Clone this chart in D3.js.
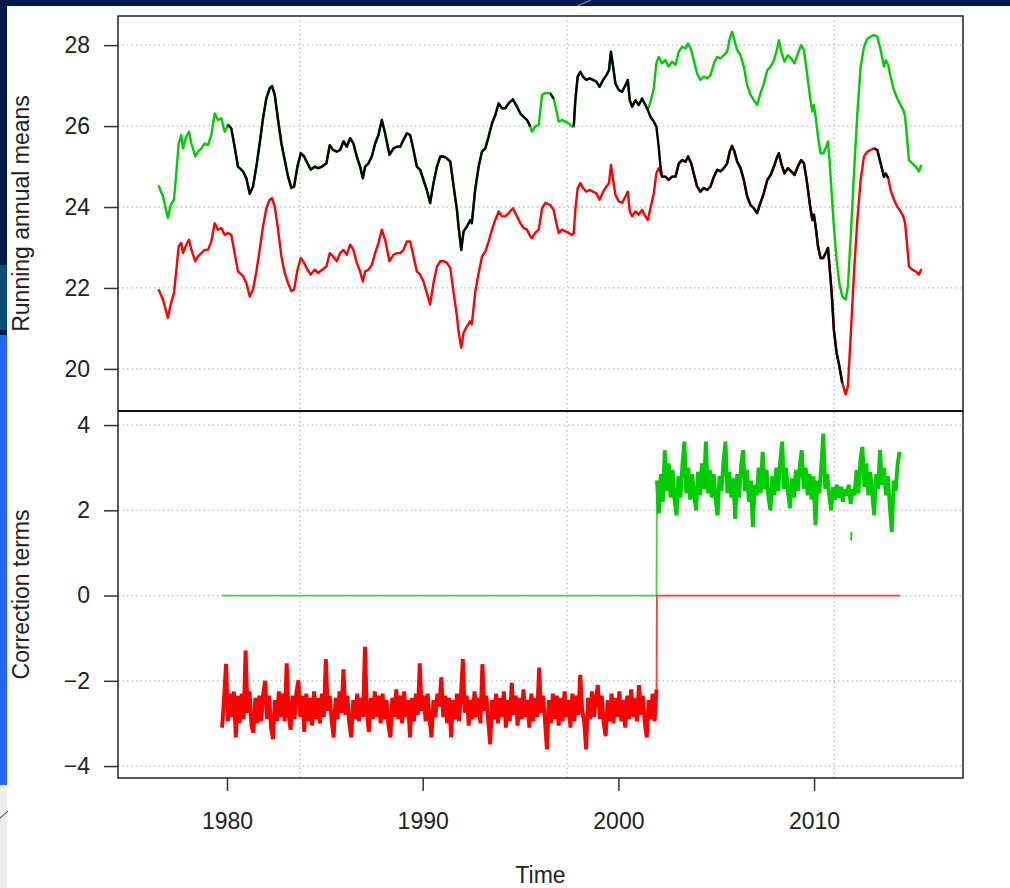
<!DOCTYPE html>
<html>
<head>
<meta charset="utf-8">
<script src="https://cdn.jsdelivr.net/npm/d3@7"></script>
<style>
body { margin: 0; background: #fff; }
svg { display: block; font-family: "Liberation Sans", Arial, sans-serif; }
</style>
</head>
<body>
<div id="chart"></div>
<script>
// running annual means (decimal years)
var meanYears = [
  1976.50, 1976.73, 1976.98, 1977.12, 1977.29, 1977.36, 1977.53, 1977.66, 1977.75, 1977.92,
  1978.06, 1978.18, 1978.38, 1978.52, 1978.69, 1978.86, 1979.03, 1979.20, 1979.37, 1979.54,
  1979.71, 1979.88, 1980.05, 1980.22, 1980.39, 1980.56, 1980.82, 1980.99, 1981.16, 1981.33,
  1981.50, 1981.67, 1981.84, 1982.01, 1982.18, 1982.30, 1982.44, 1982.61, 1982.78, 1982.95,
  1983.12, 1983.29, 1983.43, 1983.60, 1983.77, 1983.94, 1984.11, 1984.28, 1984.48, 1984.66,
  1984.86, 1985.08, 1985.25, 1985.42, 1985.61, 1985.78, 1985.95, 1986.12, 1986.29, 1986.46,
  1986.63, 1986.80, 1986.94, 1987.06, 1987.23, 1987.40, 1987.57, 1987.74, 1987.91, 1988.08,
  1988.30, 1988.51, 1988.68, 1988.85, 1989.02, 1989.19, 1989.36, 1989.53, 1989.70, 1989.87,
  1990.04, 1990.21, 1990.38, 1990.55, 1990.73, 1990.90, 1991.07, 1991.24, 1991.41, 1991.58,
  1991.75, 1991.83, 1991.97, 1992.09, 1992.26, 1992.43, 1992.51, 1992.68, 1992.86, 1993.03,
  1993.20, 1993.37, 1993.54, 1993.71, 1993.88, 1994.05, 1994.22, 1994.39, 1994.61, 1994.82,
  1994.99, 1995.16, 1995.33, 1995.50, 1995.58, 1995.75, 1995.93, 1996.10, 1996.27, 1996.52,
  1996.69, 1996.83, 1996.95, 1997.12, 1997.29, 1997.46, 1997.63, 1997.72, 1997.80, 1997.92,
  1998.06, 1998.19, 1998.36, 1998.53, 1998.70, 1998.87, 1999.04, 1999.22, 1999.39, 1999.52,
  1999.62, 1999.73, 1999.85, 2000.02, 2000.19, 2000.36, 2000.48, 2000.58, 2000.70, 2000.87,
  2001.04, 2001.21, 2001.38, 2001.50, 2001.64, 2001.81, 2001.94, 2002.06, 2002.23, 2002.40,
  2002.57, 2002.74, 2002.92, 2003.09, 2003.26, 2003.43, 2003.56, 2003.72, 2003.85, 2004.02,
  2004.19, 2004.36, 2004.54, 2004.71, 2004.88, 2005.05, 2005.22, 2005.39, 2005.56, 2005.69,
  2005.81, 2005.93, 2006.07, 2006.24, 2006.41, 2006.58, 2006.75, 2006.92, 2007.09, 2007.26,
  2007.43, 2007.61, 2007.78, 2007.95, 2008.12, 2008.20, 2008.32, 2008.49, 2008.66, 2008.83,
  2009.00, 2009.17, 2009.34, 2009.48, 2009.62, 2009.79, 2009.91, 2009.99, 2010.08, 2010.20,
  2010.33, 2010.47, 2010.59, 2010.71, 2010.79, 2010.90, 2011.01, 2011.15, 2011.29, 2011.44,
  2011.61, 2011.73, 2011.87, 2012.04, 2012.21, 2012.38, 2012.55, 2012.72, 2012.89, 2013.06,
  2013.23, 2013.40, 2013.57, 2013.66, 2013.79, 2013.91, 2014.08, 2014.25, 2014.42, 2014.56,
  2014.65, 2014.73, 2014.85, 2015.02, 2015.19, 2015.36, 2015.48
];
var greenMeans = [
  24.53, 24.26, 23.73, 24.05, 24.18, 24.55, 25.57, 25.78, 25.45, 25.74,
  25.86, 25.57, 25.25, 25.37, 25.45, 25.57, 25.53, 25.78, 26.31, 26.15,
  26.19, 25.86, 26.03, 25.94, 25.49, 25.00, 24.88, 24.71, 24.33, 24.51,
  25.00, 25.57, 26.19, 26.68, 26.93, 26.99, 26.77, 26.15, 25.57, 25.16,
  24.75, 24.47, 24.51, 25.00, 25.33, 25.25, 25.08, 24.92, 25.00, 24.96,
  25.00, 25.08, 25.53, 25.41, 25.37, 25.41, 25.62, 25.49, 25.70, 25.57,
  25.25, 25.00, 24.71, 25.00, 25.08, 25.25, 25.57, 25.78, 26.15, 25.82,
  25.29, 25.45, 25.49, 25.49, 25.66, 25.82, 25.78, 25.41, 25.00, 24.92,
  24.67, 24.42, 24.10, 24.59, 25.00, 25.25, 25.25, 25.20, 25.12, 24.51,
  23.93, 23.52, 22.94, 23.40, 23.52, 23.68, 23.60, 24.42, 25.00, 25.37,
  25.45, 25.74, 26.07, 26.27, 26.56, 26.44, 26.44, 26.56, 26.66, 26.48,
  26.31, 26.23, 26.15, 25.99, 25.86, 25.99, 26.03, 26.77, 26.82, 26.81,
  26.68, 26.40, 26.11, 26.15, 26.11, 26.07, 25.99, 25.99, 26.64, 27.22,
  27.34, 27.22, 27.14, 27.18, 27.14, 27.10, 26.97, 27.14, 27.26, 27.38,
  27.84, 27.47, 27.05, 26.89, 26.85, 27.01, 27.14, 26.64, 26.48, 26.64,
  26.52, 26.68, 26.52, 26.40, 26.60, 26.93, 27.55, 27.71, 27.55, 27.63,
  27.47, 27.59, 27.51, 27.84, 27.96, 27.92, 28.04, 27.88, 27.63, 27.30,
  27.14, 27.22, 27.18, 27.26, 27.55, 27.71, 27.67, 27.75, 27.84, 28.16,
  28.33, 28.12, 27.88, 27.75, 27.47, 27.01, 26.77, 26.64, 26.52, 26.81,
  27.05, 27.38, 27.47, 27.63, 27.92, 28.12, 27.84, 27.59, 27.75, 27.67,
  27.55, 27.79, 28.00, 27.88, 27.38, 26.73, 26.36, 26.52, 26.23, 25.74,
  25.33, 25.33, 25.45, 25.62, 25.16, 24.34, 23.52, 22.70, 22.12, 21.79,
  21.71, 22.04, 23.27, 24.83, 26.31, 27.47, 27.96, 28.16, 28.21, 28.25,
  28.21, 27.88, 27.47, 27.63, 27.51, 27.22, 26.89, 26.68, 26.52, 26.40,
  26.23, 25.82, 25.16, 25.08, 25.00, 24.88, 25.04
];
var redMeans = [
  21.97, 21.71, 21.26, 21.59, 21.88, 22.20, 23.03, 23.11, 22.86, 23.07,
  23.19, 22.94, 22.66, 22.78, 22.86, 22.94, 22.94, 23.15, 23.60, 23.44,
  23.48, 23.31, 23.36, 23.31, 22.86, 22.41, 22.29, 22.12, 21.79, 21.96,
  22.41, 22.94, 23.52, 23.97, 24.18, 24.22, 24.01, 23.44, 22.78, 22.37,
  22.12, 21.92, 21.96, 22.45, 22.74, 22.62, 22.45, 22.33, 22.45, 22.37,
  22.45, 22.53, 22.86, 22.78, 22.66, 22.86, 22.94, 22.82, 23.07, 22.94,
  22.62, 22.41, 22.16, 22.41, 22.45, 22.57, 22.86, 23.11, 23.44, 23.19,
  22.66, 22.82, 22.86, 22.86, 22.94, 23.15, 23.15, 22.78, 22.41, 22.33,
  22.16, 21.88, 21.59, 22.12, 22.53, 22.66, 22.66, 22.62, 22.49, 21.88,
  21.30, 20.93, 20.52, 20.89, 21.05, 21.18, 21.10, 21.88, 22.37, 22.78,
  22.90, 23.15, 23.44, 23.68, 23.89, 23.77, 23.77, 23.85, 23.97, 23.77,
  23.60, 23.48, 23.44, 23.27, 23.23, 23.36, 23.44, 23.97, 24.10, 24.05,
  23.93, 23.60, 23.36, 23.44, 23.40, 23.36, 23.31, 23.36, 23.93, 24.46,
  24.59, 24.47, 24.38, 24.42, 24.38, 24.34, 24.18, 24.38, 24.51, 24.59,
  25.04, 24.67, 24.30, 24.14, 24.10, 24.26, 24.38, 23.89, 23.77, 23.89,
  23.81, 23.93, 23.77, 23.68, 23.97, 24.34, 24.83, 24.96, 24.75, 24.75,
  24.67, 24.75, 24.75, 25.08, 25.16, 25.12, 25.25, 25.08, 24.83, 24.51,
  24.38, 24.47, 24.42, 24.51, 24.75, 24.92, 24.88, 24.96, 25.08, 25.37,
  25.51, 25.37, 25.12, 24.96, 24.67, 24.26, 24.05, 23.97, 23.85, 24.10,
  24.34, 24.67, 24.79, 25.00, 25.25, 25.33, 25.08, 24.83, 24.96, 24.88,
  24.79, 25.00, 25.16, 25.08, 24.67, 24.05, 23.68, 23.81, 23.52, 23.03,
  22.74, 22.74, 22.86, 22.99, 22.53, 21.88, 20.97, 20.40, 20.07, 19.66,
  19.37, 19.57, 20.81, 22.37, 23.68, 24.67, 25.25, 25.37, 25.41, 25.45,
  25.41, 25.08, 24.75, 24.83, 24.71, 24.42, 24.18, 24.01, 23.89, 23.77,
  23.60, 23.19, 22.53, 22.45, 22.41, 22.33, 22.47
];

// black (corrected) series: pieces taken from the green / red means, plus its own
// short drop from the green level down to the red level around 2002
var blackPieces = [
  [["green", 1980.05, 1995.55]],
  [["green", 1996.50, 1996.70]],
  [["green", 1997.70, 2001.50], ["bridge"], ["red", 2002.20, 2011.45]],
  [["red", 2013.00, 2013.80]]
];
var blackBridge = [[2001.64, 26.23], [2001.81, 26.11], [2001.94, 25.99], [2002.06, 25.49], [2002.15, 25.00]];

// correction terms, one value every 0.1 year
var corrStep = 0.1;
var redCorrStart = 1979.75;
var redCorr = [
  -3.10, -2.40, -1.60, -2.95, -2.30, -2.85, -2.25, -3.33, -2.35, -3.00,
  -2.30, -2.90, -1.29, -2.75, -2.25, -3.05, -3.22, -2.40, -3.00, -2.35,
  -2.95, -2.30, -2.00, -2.90, -2.35, -3.10, -3.37, -2.45, -2.95, -2.25,
  -2.85, -2.30, -2.95, -1.59, -2.80, -3.15, -2.35, -2.90, -2.25, -1.99,
  -2.85, -2.35, -3.20, -2.30, -2.95, -2.40, -3.05, -2.25, -2.90, -2.40,
  -3.00, -2.30, -2.85, -1.49, -2.70, -2.35, -2.95, -3.33, -2.40, -2.90,
  -2.25, -2.75, -1.73, -2.80, -2.35, -3.00, -3.33, -2.45, -2.90, -2.30,
  -2.95, -2.40, -2.85, -1.20, -2.75, -3.20, -2.40, -2.90, -2.25, -2.85,
  -2.35, -3.00, -2.30, -2.90, -2.45, -3.05, -3.33, -2.40, -2.85, -2.20,
  -2.90, -2.35, -3.00, -2.25, -2.85, -2.45, -3.33, -2.40, -2.95, -2.30,
  -2.80, -1.59, -2.70, -2.35, -2.95, -2.30, -2.90, -3.33, -2.45, -2.85,
  -2.30, -2.60, -1.92, -2.85, -2.35, -3.00, -2.40, -3.33, -2.45, -2.90,
  -2.30, -2.95, -2.40, -1.49, -2.75, -2.35, -3.05, -2.45, -2.90, -2.25,
  -2.85, -2.40, -3.00, -1.61, -2.70, -2.35, -2.95, -3.49, -2.45, -2.90,
  -2.30, -3.00, -2.40, -2.85, -2.25, -3.10, -2.45, -2.95, -2.05, -2.80,
  -2.35, -3.05, -2.40, -2.90, -2.20, -2.85, -2.45, -3.10, -2.30, -2.95,
  -2.40, -2.85, -1.69, -2.75, -2.35, -2.95, -3.61, -2.45, -3.00, -2.30,
  -2.90, -2.35, -3.05, -2.40, -2.95, -2.25, -2.85, -2.45, -3.10, -2.30,
  -2.95, -2.35, -2.80, -1.86, -2.70, -2.95, -3.61, -2.40, -2.90, -2.25,
  -2.85, -2.40, -2.10, -2.90, -2.35, -3.00, -3.30, -2.45, -2.95, -2.30,
  -3.00, -2.40, -2.85, -2.25, -2.95, -2.45, -3.10, -2.35, -2.90, -2.20,
  -2.85, -2.40, -2.95, -2.10, -2.80, -2.35, -3.00, -3.33, -2.45, -2.90,
  -2.30, -2.95, -2.20
];
var redCorrAfter = [[2001.97, 0], [2014.40, 0]];

var greenCorrBefore = [[1979.75, 0], [2001.95, 0]];
var greenCorrStart = 2001.97;
var greenCorr = [
  2.70, 1.93, 2.85, 2.20, 3.41, 2.45, 3.10, 2.30, 2.95, 2.25,
  1.88, 2.80, 2.30, 3.05, 3.61, 2.40, 3.00, 2.25, 2.85, 2.35,
  2.00, 2.90, 2.35, 3.10, 2.50, 3.61, 2.40, 2.95, 2.30, 2.85,
  2.25, 1.88, 2.80, 2.45, 3.15, 3.61, 2.40, 2.90, 2.30, 2.75,
  1.80, 2.85, 2.30, 3.05, 3.41, 2.45, 2.95, 2.20, 2.70, 1.61,
  2.60, 2.35, 3.00, 2.40, 3.37, 2.50, 2.95, 2.30, 2.00, 2.80,
  2.35, 3.00, 2.45, 3.15, 3.61, 2.50, 3.00, 2.40, 2.05, 2.75,
  2.30, 2.95, 2.45, 3.05, 3.41, 2.50, 3.00, 2.35, 2.85, 2.25,
  2.80, 1.65, 2.70, 2.40, 3.05, 3.80, 2.50, 2.85, 2.35, 2.00,
  2.55, 2.25, 2.60, 2.30, 2.55, 2.20, 2.50, 2.35, 2.60, 2.15,
  2.50, 2.35, 2.95, 2.40, 3.20, 3.49, 2.55, 3.10, 2.35, 2.90,
  2.40, 1.88, 2.85, 2.50, 3.41, 2.60, 3.00, 2.35, 2.80, 2.10,
  1.49, 2.70, 2.45, 3.10, 3.37
];
var greenCorrStray = [[2011.90, 1.29], [2011.90, 1.49]];

var yTicksTop = [20, 22, 24, 26, 28];
var yTicksBottom = [-4, -2, 0, 2, 4];
var xTicks = [1980, 1990, 2000, 2010];
var xGridYears = [1983.73, 1997.38, 2011.03];

var W = 1010, H = 888;
var pLeft = 118, pRight = 963, pTop = 16, pMid = 411, pBottom = 778;
var fontStack = '"Liberation Sans", Arial, sans-serif';

var svg = d3.select("#chart").append("svg").attr("width", W).attr("height", H);

// bits of the slide behind the chart
svg.append("rect").attr("x", 0).attr("y", 0).attr("width", W).attr("height", H).attr("fill", "#fff");
svg.append("rect").attr("x", 0).attr("y", 0).attr("width", W).attr("height", 6).attr("fill", "#021a4b");
svg.append("rect").attr("x", 0).attr("y", 0).attr("width", 7).attr("height", H).attr("fill", "#021a4b");
svg.append("rect").attr("x", 0).attr("y", 265).attr("width", 7).attr("height", 65).attr("fill", "#0b4d72");
svg.append("rect").attr("x", 0).attr("y", 335).attr("width", 7).attr("height", 450).attr("fill", "#2464f4");
svg.append("rect").attr("x", 0).attr("y", 785).attr("width", 7).attr("height", 103).attr("fill", "#eeeeee");
svg.append("line").attr("x1", 0).attr("y1", 818).attr("x2", 8).attr("y2", 811).attr("stroke", "#1a2a55");
svg.append("line").attr("x1", 577).attr("y1", 6).attr("x2", 591).attr("y2", 0).attr("stroke", "#8ea0c8");

var x = d3.scaleLinear().domain([1974.43, 2017.61]).range([pLeft, pRight]);
var yTop = d3.scaleLinear().domain([18.96, 28.72]).range([pMid, pTop]);
var yBot = d3.scaleLinear().domain([-4.28, 4.33]).range([pBottom, pMid]);

svg.append("clipPath").attr("id", "clipTop").append("rect")
  .attr("x", pLeft).attr("y", pTop).attr("width", pRight - pLeft).attr("height", pMid - pTop);
svg.append("clipPath").attr("id", "clipBot").append("rect")
  .attr("x", pLeft).attr("y", pMid).attr("width", pRight - pLeft).attr("height", pBottom - pMid);

// dotted grid
var grid = svg.append("g").attr("stroke", "#bdbdbd").attr("stroke-width", 1.3).attr("stroke-dasharray", "1.5,3");
grid.selectAll(".hTop").data(yTicksTop).enter().append("line")
  .attr("x1", pLeft).attr("x2", pRight)
  .attr("y1", function(d) { return yTop(d); }).attr("y2", function(d) { return yTop(d); });
grid.selectAll(".hBot").data(yTicksBottom).enter().append("line")
  .attr("x1", pLeft).attr("x2", pRight)
  .attr("y1", function(d) { return yBot(d); }).attr("y2", function(d) { return yBot(d); });
grid.selectAll(".v").data(xGridYears).enter().append("line")
  .attr("x1", function(d) { return x(d); }).attr("x2", function(d) { return x(d); })
  .attr("y1", pTop).attr("y2", pBottom);

// build the series
var greenPts = meanYears.map(function(t, i) { return [t, greenMeans[i]]; });
var redPts = meanYears.map(function(t, i) { return [t, redMeans[i]]; });
function pick(src, from, to) {
  var pts = src == "green" ? greenPts : redPts;
  return pts.filter(function(p) { return p[0] >= from && p[0] <= to; });
}
var blackLines = blackPieces.map(function(piece) {
  var out = [];
  piece.forEach(function(part) {
    if (part[0] == "bridge") out = out.concat(blackBridge);
    else out = out.concat(pick(part[0], part[1], part[2]));
  });
  return out;
});

var redNoise = redCorr.map(function(v, i) { return [redCorrStart + i * corrStep, v]; });
var redStep = [redNoise[redNoise.length - 1]].concat(redCorrAfter);
var greenNoise = greenCorr.map(function(v, i) { return [greenCorrStart + i * corrStep, v]; });
var greenStep = greenCorrBefore.concat([greenNoise[0]]);

var lineTop = d3.line().x(function(d) { return x(d[0]); }).y(function(d) { return yTop(d[1]); });
var lineBot = d3.line().x(function(d) { return x(d[0]); }).y(function(d) { return yBot(d[1]); });

var gTop = svg.append("g").attr("clip-path", "url(#clipTop)")
  .attr("fill", "none").attr("stroke-width", 2.4).attr("stroke-linejoin", "round");
gTop.append("path").attr("d", lineTop(greenPts)).attr("stroke", "#00cd00");
gTop.append("path").attr("d", lineTop(redPts)).attr("stroke", "#ff0000");
gTop.selectAll(".black").data(blackLines).enter().append("path")
  .attr("d", function(d) { return lineTop(d); }).attr("stroke", "#000");

// dense daily wiggle -> thick stroke; flat parts and the jump stay thin
var gBot = svg.append("g").attr("clip-path", "url(#clipBot)").attr("fill", "none");
gBot.append("path").attr("d", lineBot(greenStep)).attr("stroke", "#3dd63d").attr("stroke-width", 1.8);
gBot.append("path").attr("d", lineBot(greenNoise)).attr("stroke", "#00cd00").attr("stroke-width", 3.9);
gBot.append("path").attr("d", lineBot(greenCorrStray)).attr("stroke", "#00cd00").attr("stroke-width", 1.8);
gBot.append("path").attr("d", lineBot(redStep)).attr("stroke", "#ff3b3b").attr("stroke-width", 1.8);
gBot.append("path").attr("d", lineBot(redNoise)).attr("stroke", "#ff0000").attr("stroke-width", 3.9);

// frames
svg.append("rect").attr("x", pLeft).attr("y", pTop).attr("width", pRight - pLeft).attr("height", pBottom - pTop)
  .attr("fill", "none").attr("stroke", "#222").attr("stroke-width", 1.5);
svg.append("line").attr("x1", pLeft).attr("x2", pRight).attr("y1", pMid).attr("y2", pMid)
  .attr("stroke", "#111").attr("stroke-width", 2);

// axes
function styleAxis(g) {
  g.select(".domain").remove();
  g.attr("font-size", 23).attr("font-family", fontStack);
  g.selectAll("line").attr("stroke", "#333").attr("stroke-width", 1.5);
  g.selectAll("text").attr("fill", "#222");
}
svg.append("g").attr("transform", "translate(" + pLeft + ",0)")
  .call(d3.axisLeft(yTop).tickValues(yTicksTop).tickSize(14).tickPadding(14))
  .call(styleAxis);
svg.append("g").attr("transform", "translate(" + pLeft + ",0)")
  .call(d3.axisLeft(yBot).tickValues(yTicksBottom).tickSize(14).tickPadding(14)
    .tickFormat(function(d) { return d < 0 ? "\u2212" + Math.abs(d) : d; }))
  .call(styleAxis);
svg.append("g").attr("transform", "translate(0," + pBottom + ")")
  .call(d3.axisBottom(x).tickValues(xTicks).tickSize(13).tickPadding(22).tickFormat(d3.format("d")))
  .call(styleAxis);

// titles
svg.append("text").attr("transform", "translate(29," + ((pTop + pMid) / 2) + ") rotate(-90)")
  .attr("text-anchor", "middle").attr("font-size", 23).attr("fill", "#222")
  .text("Running annual means");
svg.append("text").attr("transform", "translate(29," + ((pMid + pBottom) / 2) + ") rotate(-90)")
  .attr("text-anchor", "middle").attr("font-size", 23).attr("fill", "#222")
  .text("Correction terms");
svg.append("text").attr("x", (pLeft + pRight) / 2).attr("y", 883)
  .attr("text-anchor", "middle").attr("font-size", 23).attr("fill", "#222")
  .text("Time");
</script>
</body>
</html>
